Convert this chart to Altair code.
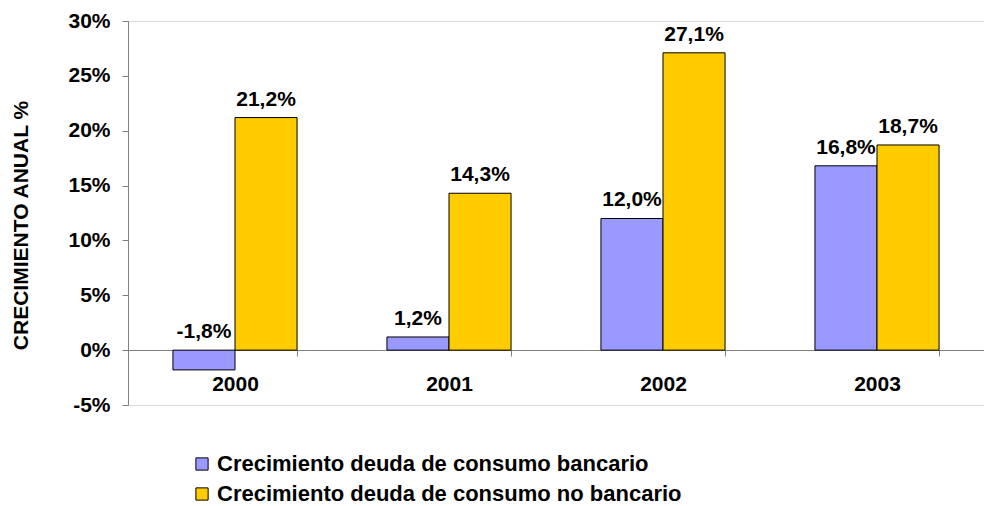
import altair as alt
import pandas as pd

years = ["2000", "2001", "2002", "2003"]
bancario = [-1.8, 1.2, 12.0, 16.8]
no_bancario = [21.2, 14.3, 27.1, 18.7]
series = ["Crecimiento deuda de consumo bancario", "Crecimiento deuda de consumo no bancario"]
colors = ["#9999FF", "#FFCC00"]

rows = []
for i, y in enumerate(years):
    for s, vals in zip(series, [bancario, no_bancario]):
        v = vals[i]
        rows.append({"year": y, "serie": s, "value": v,
                     "labelpos": max(v, 0),
                     "label": f"{v:.1f}%".replace(".", ",")})
df = pd.DataFrame(rows)

FONT = "Liberation Sans"
FS = 21

x = alt.X("year:N", sort=years, title=None,
          scale=alt.Scale(paddingInner=0.42, paddingOuter=0.21),
          axis=alt.Axis(orient="bottom", offset=-55, domainColor="#808080", domainWidth=1,
                        tickColor="#808080", tickSize=6, tickBand="extent",
                        labelPadding=17, labelFont=FONT, labelFontSize=FS,
                        labelFontWeight="bold", labelColor="#000000", labelAngle=0))
xoff = alt.XOffset("serie:N", sort=series, scale=alt.Scale(paddingInner=0, paddingOuter=0))
yscale = alt.Scale(domain=[-5, 30], nice=False, zero=False)

bars = alt.Chart(df).mark_bar(stroke="#000000", strokeWidth=1).encode(
    x=x,
    xOffset=xoff,
    y=alt.Y("value:Q", scale=yscale, title="CRECIMIENTO ANUAL %",
            axis=alt.Axis(values=[-5, 0, 5, 10, 15, 20, 25, 30], grid=False,
                          labelExpr="datum.value + '%'", domainColor="#808080",
                          tickColor="#808080", tickSize=6, labelPadding=12,
                          labelFont=FONT, labelFontSize=FS, labelFontWeight="bold",
                          labelColor="#000000", titleFont=FONT, titleFontSize=FS,
                          titleFontWeight="bold", titleColor="#000000", titlePadding=36,
                          titleY=204)),
    y2=alt.datum(0),
    color=alt.Color("serie:N", sort=series,
                    scale=alt.Scale(domain=series, range=colors),
                    legend=alt.Legend(title=None, orient="none", legendX=63, legendY=432,
                                      direction="vertical", symbolType="square",
                                      symbolSize=150, symbolStrokeColor="#000000",
                                      symbolStrokeWidth=1, labelFont=FONT,
                                      labelFontSize=22, labelFontWeight="bold",
                                      labelColor="#000000", rowPadding=8,
                                      labelOffset=4, padding=0, labelLimit=700)),
)

labels = alt.Chart(df).mark_text(baseline="bottom", dy=-8, font=FONT, fontSize=FS,
                                 fontWeight="bold", color="#000000").encode(
    x=alt.X("year:N", sort=years),
    xOffset=xoff,
    y=alt.Y("labelpos:Q", scale=yscale),
    text="label:N",
)

chart = alt.layer(bars, labels).properties(
    width=856, height=384,
    autosize=alt.AutoSizeParams(type="none"),
    padding={"left": 128, "top": 21, "right": 0, "bottom": 101},
).configure_view(stroke=None).configure(background="#ffffff")

chart.save("out.html", embed_options={"renderer": "svg", "actions": False})
